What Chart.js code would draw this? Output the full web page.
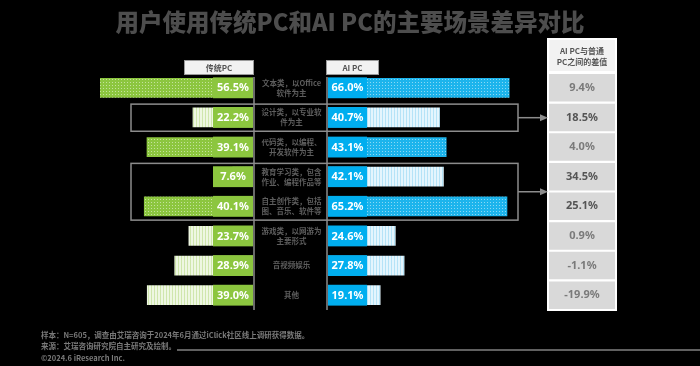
<!DOCTYPE html>
<html lang="zh-CN">
<head>
<meta charset="utf-8">
<title>用户使用传统PC和AI PC的主要场景差异对比</title>
<script src="https://cdn.jsdelivr.net/npm/chart.js@4.4.1/dist/chart.umd.min.js"></script>
<style>
  html, body { margin: 0; padding: 0; background: #000; }
  #wrap { position: relative; width: 700px; height: 366px; }
</style>
</head>
<body>
<div id="wrap"><canvas id="scene-chart"></canvas></div>
<script>
// 使用场景（两行显示）
const scenes = [
    ['文本类，以Office', '软件为主'],
    ['设计类，以专业软', '件为主'],
    ['代码类，以编程、', '开发软件为主'],
    ['教育学习类，包含', '作业、编程作品等'],
    ['自主创作类，包括', '图、音乐、软件等'],
    ['游戏类，以网游为', '主要形式'],
    ['音视频娱乐'],
    ['其他']
];
const traditionalPC = [56.5, 22.2, 39.1, 7.6, 40.1, 23.7, 28.9, 39.0];
const aiPC = [66.0, 40.7, 43.1, 42.1, 65.2, 24.6, 27.8, 19.1];
const gapValues = [9.4, 18.5, 4.0, 34.5, 25.1, 0.9, -1.1, -19.9];
// 框出的行（起始行, 结束行）
const highlightRows = [[1, 1], [3, 4]];

const seriesNames = ['传统PC', 'AI PC'];
const gapTitle = ['AI PC与普通', 'PC之间的差值'];
const footnotes = [
    '样本：N=605，调查由艾瑞咨询于2024年6月通过iClick社区线上调研获得数据。',
    '来源：艾瑞咨询研究院自主研究及绘制。',
    '©2024.6 iResearch Inc.'
];
const chartTitle = '用户使用传统PC和AI PC的主要场景差异对比';

// layout (pixels)
const PLOT_LEFT = 100, PLOT_RIGHT = 615;
const ZERO_L = 253, ZERO_R = 328;
const PX_L = 2.72, PX_R = 2.75;
const CELL_LEFT = 549;
const CJK = '"Noto Sans CJK SC", "Noto Sans", sans-serif';

function makePattern(base, mark, stripes) {
    const c = document.createElement('canvas');
    c.width = 3; c.height = 3;
    const g = c.getContext('2d');
    g.fillStyle = base;
    g.fillRect(0, 0, 3, 3);
    g.fillStyle = mark;
    if (stripes) g.fillRect(1, 0, 1, 3);
    else g.fillRect(1, 1, 1, 1);
    return g.createPattern(c, 'repeat');
}

function topRows(values, n) {
    return values.map((v, i) => [v, i]).sort((a, b) => b[0] - a[0]).slice(0, n).map(p => p[1]);
}

const greenDark = makePattern('#8cc63f', '#c4e29c', false);
const greenLight = makePattern('#eef7e2', '#cfe6ad', true);
const blueDark = makePattern('#1db4ec', '#8ad8f5', false);
const blueLight = makePattern('#e4f5fd', '#b5e3f7', true);
const topL = topRows(traditionalPC, 3);
const topR = topRows(aiPC, 3);

function isHighlighted(i) {
    return highlightRows.some(([a, b]) => i >= a && i <= b);
}

const decorPlugin = {
    id: 'decor',
    beforeDatasetsDraw(chart) {
        const { ctx, chartArea } = chart;
        ctx.save();
        // white frame of the difference column
        ctx.fillStyle = '#ffffff';
        ctx.fillRect(CELL_LEFT - 2, 38, PLOT_RIGHT - CELL_LEFT + 4, chartArea.bottom - 38 + 1);
        ctx.fillStyle = '#f2f2f2';
        ctx.fillRect(CELL_LEFT, 40, PLOT_RIGHT - CELL_LEFT, chartArea.top - 42);
        ctx.restore();
    },
    afterDatasetsDraw(chart) {
        const { ctx, chartArea } = chart;
        const n = scenes.length;
        const rowH = (chartArea.bottom - chartArea.top) / n;
        const metaL = chart.getDatasetMeta(0).data;
        const metaR = chart.getDatasetMeta(1).data;
        const metaD = chart.getDatasetMeta(2).data;
        ctx.save();
        ctx.textAlign = 'center';
        ctx.textBaseline = 'middle';

        // title
        ctx.fillStyle = '#4d4d4d';
        ctx.font = '900 23.5px ' + CJK;
        ctx.fillText(chartTitle, 350, 22);

        // series headers
        const headers = [[184, 254], [326, 379]];
        headers.forEach(([x0, x1], i) => {
            ctx.fillStyle = '#f2f2f2';
            ctx.fillRect(x0, 60, x1 - x0, 15);
            ctx.strokeStyle = '#9a9a9a';
            ctx.lineWidth = 1;
            ctx.strokeRect(x0 + 0.5, 60.5, x1 - x0 - 1, 14);
            ctx.fillStyle = '#555555';
            ctx.font = 'bold 8px ' + CJK;
            ctx.fillText(seriesNames[i], (x0 + x1) / 2, 68);
        });

        // difference column header
        ctx.fillStyle = '#555555';
        ctx.font = 'bold 8px ' + CJK;
        const gx = (CELL_LEFT + PLOT_RIGHT) / 2;
        ctx.fillText(gapTitle[0], gx, 51);
        ctx.fillText(gapTitle[1], gx, 62);

        // value boxes
        ctx.font = 'bold 11px "Noto Sans", sans-serif';
        metaL.forEach((el, i) => {
            const h = el.height + 1;
            ctx.fillStyle = '#8cc63f';
            ctx.fillRect(ZERO_L - 40, el.y - h / 2, 40, h);
            ctx.fillStyle = '#ffffff';
            ctx.fillText(traditionalPC[i].toFixed(1) + '%', ZERO_L - 20, el.y + 0.5);
        });
        metaR.forEach((el, i) => {
            const h = el.height + 1;
            ctx.fillStyle = '#00aeef';
            ctx.fillRect(ZERO_R, el.y - h / 2, 39, h);
            ctx.fillStyle = '#ffffff';
            ctx.fillText(aiPC[i].toFixed(1) + '%', ZERO_R + 19.5, el.y + 0.5);
        });
        metaD.forEach((el, i) => {
            ctx.fillStyle = isHighlighted(i) ? '#555555' : '#7a7a7a';
            ctx.fillText(gapValues[i].toFixed(1) + '%', gx, el.y);
        });

        // scene labels
        ctx.fillStyle = '#5e5e5e';
        ctx.font = 'bold 7.5px ' + CJK;
        const cx = (ZERO_L + ZERO_R) / 2 + 1;
        metaL.forEach((el, i) => {
            const lines = scenes[i];
            lines.forEach((t, j) => {
                ctx.fillText(t, cx, el.y + (j - (lines.length - 1) / 2) * 10);
            });
        });

        // dividers
        ctx.strokeStyle = '#8c8c8c';
        ctx.lineWidth = 1.5;
        ctx.beginPath();
        ctx.moveTo(ZERO_L + 1, chartArea.top + 4);
        ctx.lineTo(ZERO_L + 1, chartArea.bottom);
        ctx.moveTo(ZERO_R - 1, chartArea.top + 4);
        ctx.lineTo(ZERO_R - 1, chartArea.bottom);
        ctx.stroke();

        // highlight boxes and connectors
        highlightRows.forEach(([a, b]) => {
            const y0 = chartArea.top + a * rowH + 1.5;
            const y1 = chartArea.top + (b + 1) * rowH - 1;
            ctx.strokeStyle = '#8c8c8c';
            ctx.lineWidth = 1.5;
            ctx.strokeRect(131, y0, 518 - 131, y1 - y0);
            const my = (y0 + y1) / 2;
            ctx.beginPath();
            ctx.moveTo(518, my);
            ctx.lineTo(541, my);
            ctx.stroke();
            ctx.fillStyle = '#8c8c8c';
            ctx.beginPath();
            ctx.moveTo(540, my - 3.5);
            ctx.lineTo(548, my);
            ctx.lineTo(540, my + 3.5);
            ctx.closePath();
            ctx.fill();
        });

        // footnotes
        ctx.textAlign = 'left';
        ctx.fillStyle = '#7a7a7a';
        ctx.font = 'bold 7.5px ' + CJK;
        footnotes.forEach((t, i) => ctx.fillText(t, 41, 335 + i * 11.5));
        ctx.strokeStyle = '#808080';
        ctx.lineWidth = 1.5;
        ctx.beginPath();
        ctx.moveTo(177, 350);
        ctx.lineTo(700, 350);
        ctx.stroke();
        ctx.restore();
    }
};

const canvas = document.getElementById('scene-chart');
new Chart(canvas, {
    type: 'bar',
    data: {
        labels: scenes,
        datasets: [{
            label: seriesNames[0],
            data: traditionalPC,
            xAxisID: 'xL',
            backgroundColor: ctx => topL.includes(ctx.dataIndex) ? greenDark : greenLight,
            grouped: false,
            categoryPercentage: 1,
            barPercentage: 0.67,
            borderWidth: 0
        }, {
            label: seriesNames[1],
            data: aiPC,
            xAxisID: 'xR',
            backgroundColor: ctx => topR.includes(ctx.dataIndex) ? blueDark : blueLight,
            grouped: false,
            categoryPercentage: 1,
            barPercentage: 0.67,
            borderWidth: 0
        }, {
            label: 'gap',
            data: gapValues.map(() => [0, 1]),
            xAxisID: 'xD',
            backgroundColor: '#d9d9d9',
            grouped: false,
            categoryPercentage: 1,
            barPercentage: 0.93,
            borderWidth: 0
        }]
    },
    options: {
        indexAxis: 'y',
        responsive: true,
        maintainAspectRatio: false,
        animation: false,
        layout: {
            padding: { left: PLOT_LEFT, right: 700 - PLOT_RIGHT, top: 73, bottom: 56 }
        },
        scales: {
            y: { type: 'category', display: false, offset: true },
            xL: {
                type: 'linear', axis: 'x', display: false, reverse: true,
                min: -(PLOT_RIGHT - ZERO_L) / PX_L,
                max: (ZERO_L - PLOT_LEFT) / PX_L
            },
            xR: {
                type: 'linear', axis: 'x', display: false,
                min: -(ZERO_R - PLOT_LEFT) / PX_R,
                max: (PLOT_RIGHT - ZERO_R) / PX_R
            },
            xD: {
                type: 'linear', axis: 'x', display: false,
                min: -(CELL_LEFT - PLOT_LEFT) / (PLOT_RIGHT - CELL_LEFT),
                max: 1
            }
        },
        plugins: {
            legend: { display: false },
            tooltip: { enabled: false }
        }
    },
    plugins: [decorPlugin]
});
</script>
</body>
</html>
